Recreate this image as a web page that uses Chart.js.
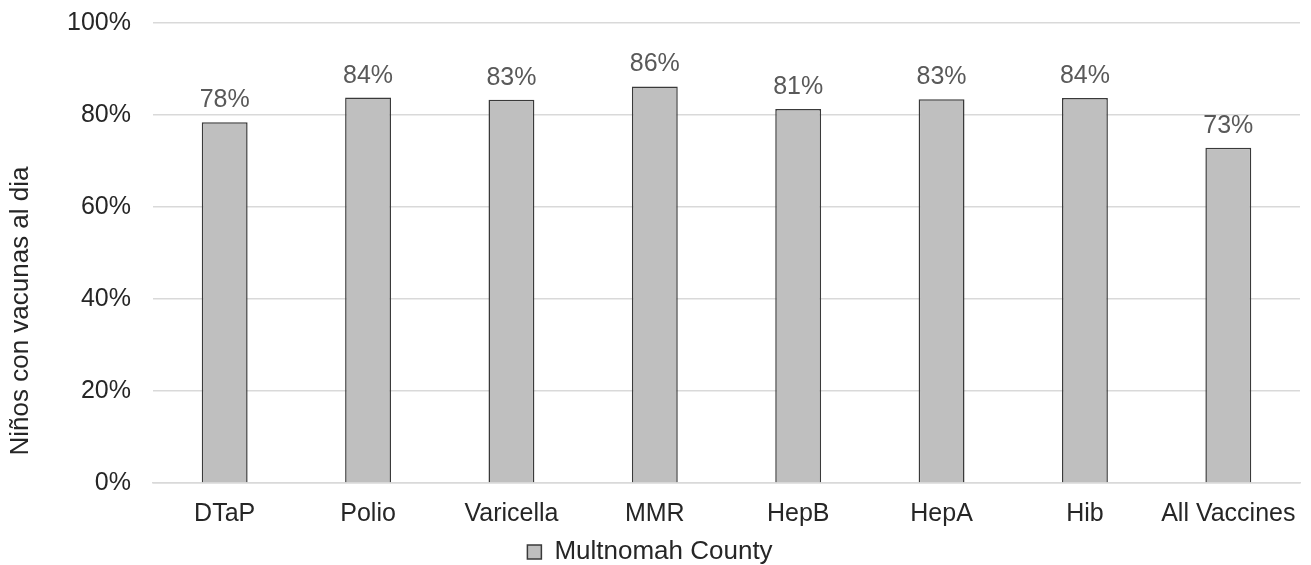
<!DOCTYPE html>
<html>
<head>
<meta charset="utf-8">
<script src="https://cdn.jsdelivr.net/npm/chart.js@4"></script>
<style>
  html, body { margin: 0; padding: 0; background: #fff; }
  #wrap { width: 1311px; height: 565px; }
</style>
</head>
<body>
<div id="wrap"><canvas id="myChart" width="1311" height="565"></canvas></div>
<script>
// Data
const categories = ['DTaP', 'Polio', 'Varicella', 'MMR', 'HepB', 'HepA', 'Hib', 'All Vaccines'];
const multnomah = [78.4, 83.8, 83.3, 86.2, 81.3, 83.4, 83.7, 72.9];
const yTicks = [0, 20, 40, 60, 80, 100];
const yTitle = 'Niños con vacunas al dia';

// Value labels above each bar, plus the y axis title (sits a bit low, like the original)
const barLabels = {
    id: 'barLabels',
    afterDatasetsDraw(chart) {
        const ctx = chart.ctx;
        const meta = chart.getDatasetMeta(0);
        ctx.save();
        ctx.font = '25px "Liberation Sans", Arial, sans-serif';
        ctx.fillStyle = '#595959';
        ctx.textAlign = 'center';
        ctx.textBaseline = 'alphabetic';
        meta.data.forEach((bar, i) => {
            ctx.fillText(Math.round(multnomah[i]) + '%', bar.x, bar.y - 15);
        });
        ctx.restore();

        ctx.save();
        ctx.font = '26px "Liberation Sans", Arial, sans-serif';
        ctx.fillStyle = '#262626';
        ctx.textAlign = 'center';
        ctx.textBaseline = 'middle';
        ctx.translate(21, chart.chartArea.bottom - 172);
        ctx.rotate(-Math.PI / 2);
        ctx.fillText(yTitle, 0, 0);
        ctx.restore();
    }
};

Chart.defaults.font.family = '"Liberation Sans", Arial, sans-serif';
Chart.defaults.font.size = 25;
Chart.defaults.color = '#262626';

const ctx = document.getElementById('myChart').getContext('2d');
const chart = new Chart(ctx, {
    type: 'bar',
    data: {
        labels: categories,
        datasets: [{
            label: 'Multnomah County',
            data: multnomah,
            backgroundColor: '#bfbfbf',
            borderColor: '#3a3a3a',
            borderWidth: 1.5,
            categoryPercentage: 1,
            barPercentage: 0.32
        }]
    },
    plugins: [barLabels],
    options: {
        responsive: false,
        animation: false,
        layout: { padding: { top: 23, right: 11, left: 0, bottom: -10 } },
        plugins: {
            tooltip: { enabled: false },
            legend: {
                position: 'bottom',
                labels: {
                    boxWidth: 14,
                    boxHeight: 14,
                    padding: 4,
                    color: '#262626',
                    font: { size: 26 }
                }
            }
        },
        scales: {
            x: {
                grid: { display: false },
                border: { display: true, color: '#d9d9d9', width: 1.5 },
                ticks: { padding: 8, maxRotation: 0, autoSkip: false },
                afterFit(scale) { scale.height = 52; }
            },
            y: {
                min: 0,
                max: 100,
                afterBuildTicks(scale) {
                    scale.ticks = yTicks.map(v => ({ value: v }));
                },
                afterFit(scale) {
                    scale.width = 153;
                    scale.paddingTop = 0;
                    scale.paddingBottom = 0;
                },
                border: { display: false },
                grid: { color: '#d9d9d9', lineWidth: 1.5, drawTicks: false },
                ticks: {
                    padding: 22,
                    callback: v => v + '%'
                }
            }
        }
    }
});
</script>
</body>
</html>
